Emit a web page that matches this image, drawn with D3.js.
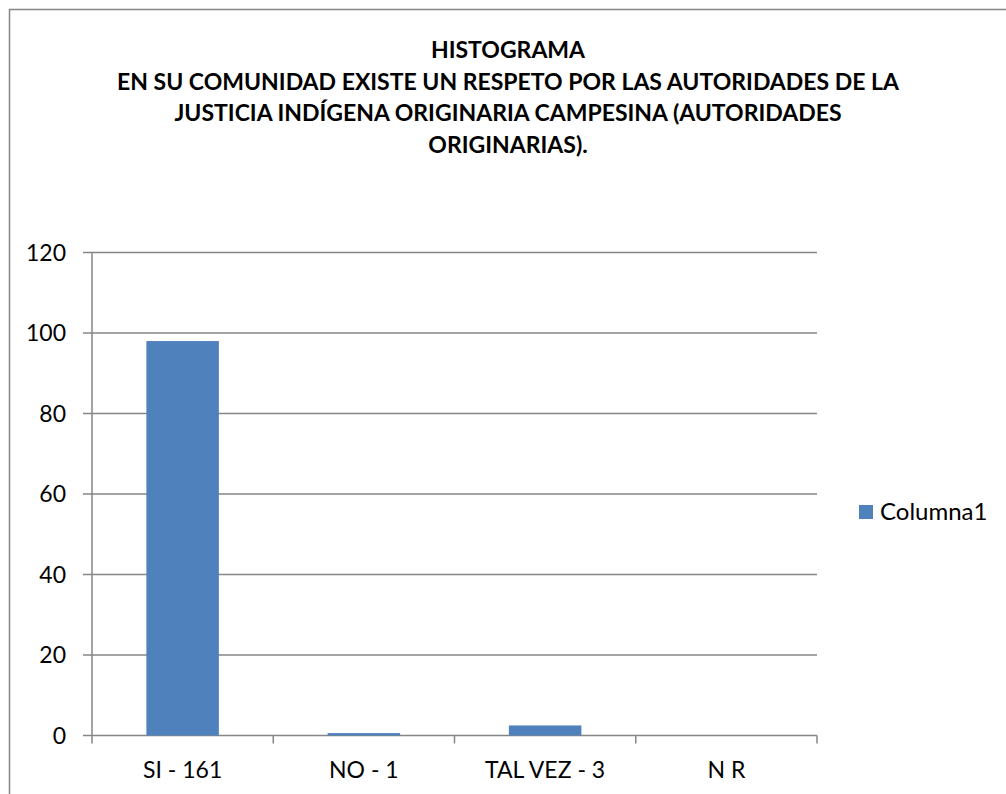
<!DOCTYPE html>
<html>
<head>
<meta charset="utf-8">
<script src="https://cdn.jsdelivr.net/npm/d3@7"></script>
<style>
  body { margin: 0; background: #fff; }
  svg text { font-family: Lato, "Open Sans", sans-serif; fill: #000; }
</style>
</head>
<body>
<div id="root"></div>
<script>
const titleLines = [
  "HISTOGRAMA",
  "EN SU COMUNIDAD EXISTE UN RESPETO POR LAS AUTORIDADES DE LA",
  "JUSTICIA INDÍGENA ORIGINARIA CAMPESINA (AUTORIDADES",
  "ORIGINARIAS)."
];
const categories = ["SI - 161", "NO - 1", "TAL VEZ - 3", "N R"];
const values = [98, 0.6, 2.5, 0];
const yTicks = [0, 20, 40, 60, 80, 100, 120];
const seriesName = "Columna1";

const w = 1006;
const h = 794;
const barColor = "#4F81BD";
const lineColor = "#868686";

const svg = d3.select("#root")
  .append("svg")
  .attr("width", w)
  .attr("height", h);

// outer chart border (runs off the right / bottom edge)
svg.append("rect")
  .attr("x", 9.5)
  .attr("y", 9.5)
  .attr("width", 1100)
  .attr("height", 900)
  .attr("fill", "#fff")
  .attr("stroke", lineColor)
  .attr("stroke-width", 1.5);

// title
svg.append("g")
  .selectAll("text")
  .data(titleLines)
  .enter()
  .append("text")
  .attr("x", 508)
  .attr("y", (d, i) => 58 + i * 31.5)
  .attr("text-anchor", "middle")
  .style("font-weight", "bold")
  .style("font-size", "23px")
  .text(d => d);

// scales
const x = d3.scaleBand()
  .domain(categories)
  .range([92, 817])
  .padding(0);

const y = d3.scaleLinear()
  .domain([0, 120])
  .range([735.5, 252.5]);

// gridlines
svg.append("g")
  .selectAll("line")
  .data(yTicks)
  .enter()
  .append("line")
  .attr("x1", 83)
  .attr("x2", 817)
  .attr("y1", d => y(d))
  .attr("y2", d => y(d))
  .attr("stroke", lineColor)
  .attr("stroke-width", 1.5);

// y axis line
svg.append("line")
  .attr("x1", 92).attr("x2", 92)
  .attr("y1", y(120)).attr("y2", y(0))
  .attr("stroke", lineColor)
  .attr("stroke-width", 1.5);

// x ticks at category boundaries
const boundaries = categories.map(c => x(c)).concat([x.range()[1]]);
svg.append("g")
  .selectAll("line")
  .data(boundaries)
  .enter()
  .append("line")
  .attr("x1", d => d).attr("x2", d => d)
  .attr("y1", y(0)).attr("y2", y(0) + 8)
  .attr("stroke", lineColor)
  .attr("stroke-width", 1.5);

// y labels
svg.append("g")
  .selectAll("text")
  .data(yTicks)
  .enter()
  .append("text")
  .attr("x", 66)
  .attr("y", d => y(d) + 8)
  .attr("text-anchor", "end")
  .style("font-size", "23px")
  .text(d => d);

// bars
const bw = x.bandwidth();
svg.append("g")
  .selectAll("rect")
  .data(values)
  .enter()
  .append("rect")
  .attr("x", (d, i) => x(categories[i]) + bw * 0.3)
  .attr("width", bw * 0.4)
  .attr("y", d => y(d))
  .attr("height", d => y(0) - y(d))
  .attr("fill", barColor);

// category labels
svg.append("g")
  .selectAll("text")
  .data(categories)
  .enter()
  .append("text")
  .attr("x", d => x(d) + bw / 2)
  .attr("y", 778)
  .attr("text-anchor", "middle")
  .style("font-size", "23px")
  .text(d => d);

// legend
const legend = svg.append("g").attr("transform", "translate(859, 505)");
legend.append("rect")
  .attr("width", 14)
  .attr("height", 14)
  .attr("fill", barColor);
legend.append("text")
  .attr("x", 21)
  .attr("y", 15)
  .style("font-size", "24px")
  .text(seriesName);
</script>
</body>
</html>
